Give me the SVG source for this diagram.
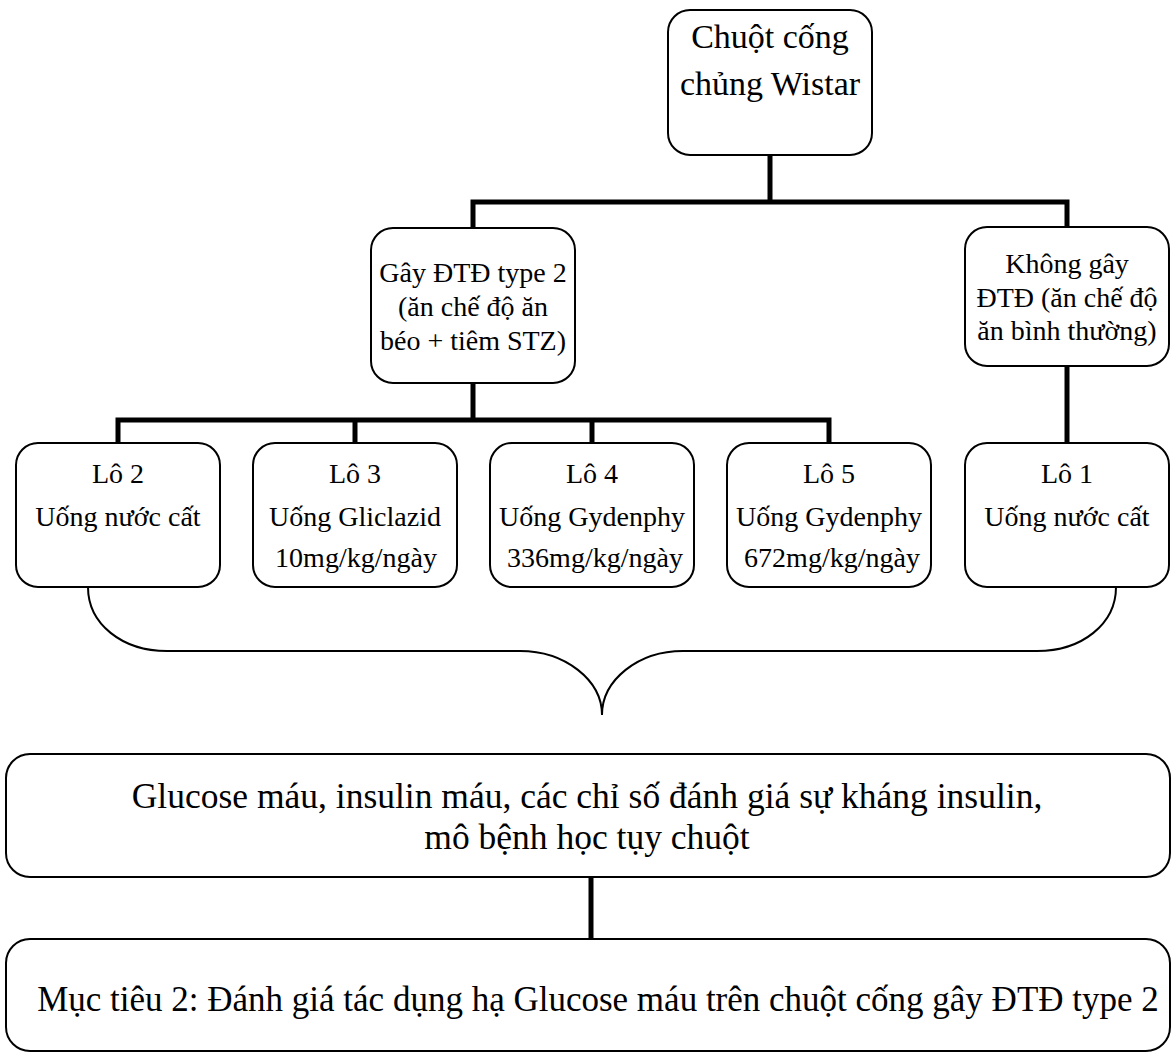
<svg xmlns="http://www.w3.org/2000/svg" width="1176" height="1057" viewBox="0 0 1176 1057">
<style>
.box{fill:#fff;stroke:#000;stroke-width:2}
.t{font-family:"Liberation Serif","Times New Roman",serif;fill:#000;text-anchor:middle}
.conn{fill:none;stroke:#000;stroke-width:5;stroke-linejoin:miter;stroke-linecap:butt}
.brace{fill:none;stroke:#000;stroke-width:2}
</style>
<rect width="1176" height="1057" fill="#fff"/>
<g id="connectors">
<path class="conn" d="M770 155 V202"/>
<path class="conn" d="M473 228 V202 H1067 V228"/>
<path class="conn" d="M473 383 V420"/>
<path class="conn" d="M118 443 V420 H829 V443"/>
<path class="conn" d="M355 420 V443"/>
<path class="conn" d="M592 420 V443"/>
<path class="conn" d="M1067 366 V443"/>
<path class="conn" d="M591 877 V939"/>
<path class="brace" d="M88 587 C88 624 122 651 167 651 L520 651 C565 651 602 680 602 715 C602 680 638 651 683 651 L1037 651 C1082 651 1116 624 1116 587"/>
</g>
<g id="n-top">
<rect class="box" x="668" y="10" width="204" height="145" rx="22"/>
<text class="t" font-size="34" x="770" y="48">Chuột cống</text>
<text class="t" font-size="34" x="770" y="95">chủng Wistar</text>
</g>
<g id="n-gay">
<rect class="box" x="371" y="228" width="204" height="155" rx="22"/>
<text class="t" font-size="28" x="473" y="282">Gây ĐTĐ type 2</text>
<text class="t" font-size="28" x="473" y="316">(ăn chế độ ăn</text>
<text class="t" font-size="28" x="473" y="350">béo + tiêm STZ)</text>
</g>
<g id="n-khong">
<rect class="box" x="965" y="227" width="204" height="139" rx="22"/>
<text class="t" font-size="28" x="1067" y="273">Không gây</text>
<text class="t" font-size="28" x="1067" y="307">ĐTĐ (ăn chế độ</text>
<text class="t" font-size="28" x="1067" y="340">ăn bình thường)</text>
</g>
<g id="n-lo2">
<rect class="box" x="16" y="443" width="204" height="144" rx="22"/>
<text class="t" font-size="28" x="118" y="483">Lô 2</text>
<text class="t" font-size="28" x="118" y="526">Uống nước cất</text>
</g>
<g id="n-lo3">
<rect class="box" x="253" y="443" width="204" height="144" rx="22"/>
<text class="t" font-size="28" x="355" y="483">Lô 3</text>
<text class="t" font-size="28" x="355" y="526">Uống Gliclazid</text>
<text class="t" font-size="28" x="356" y="567">10mg/kg/ngày</text>
</g>
<g id="n-lo4">
<rect class="box" x="490" y="443" width="204" height="144" rx="22"/>
<text class="t" font-size="28" x="592" y="483">Lô 4</text>
<text class="t" font-size="28" x="592" y="526">Uống Gydenphy</text>
<text class="t" font-size="28" x="595" y="567">336mg/kg/ngày</text>
</g>
<g id="n-lo5">
<rect class="box" x="727" y="443" width="204" height="144" rx="22"/>
<text class="t" font-size="28" x="829" y="483">Lô 5</text>
<text class="t" font-size="28" x="829" y="526">Uống Gydenphy</text>
<text class="t" font-size="28" x="832" y="567">672mg/kg/ngày</text>
</g>
<g id="n-lo1">
<rect class="box" x="965" y="443" width="204" height="144" rx="22"/>
<text class="t" font-size="28" x="1067" y="483">Lô 1</text>
<text class="t" font-size="28" x="1067" y="526">Uống nước cất</text>
</g>
<g id="n-chiso">
<rect class="box" x="6" y="754" width="1164" height="123" rx="24"/>
<text class="t" font-size="35.5" x="587" y="808">Glucose máu, insulin máu, các chỉ số đánh giá sự kháng insulin,</text>
<text class="t" font-size="35.5" x="587" y="849">mô bệnh học tụy chuột</text>
</g>
<g id="n-muctieu">
<rect class="box" x="6" y="939" width="1164" height="112" rx="24"/>
<text class="t" font-size="35" x="598" y="1011">Mục tiêu 2: Đánh giá tác dụng hạ Glucose máu trên chuột cống gây ĐTĐ type 2</text>
</g>
</svg>
